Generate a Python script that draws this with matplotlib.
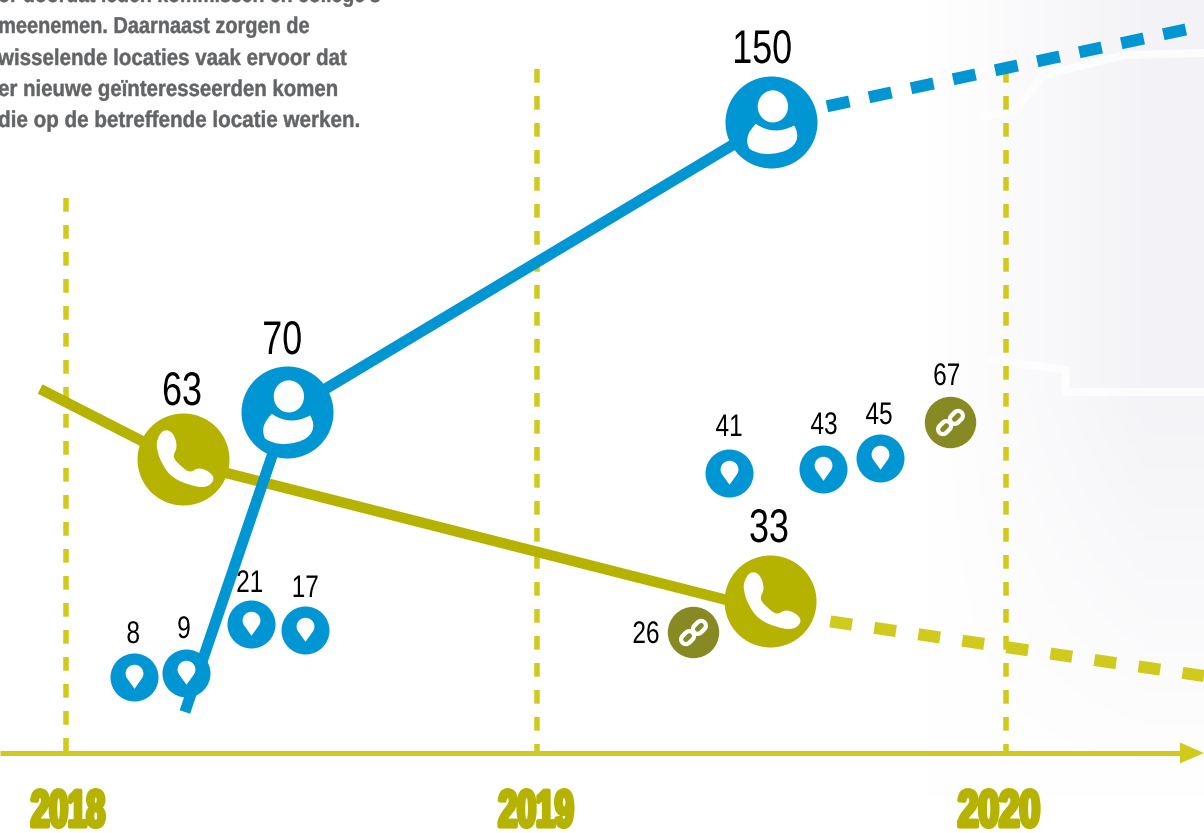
import matplotlib
matplotlib.use("Agg")
import matplotlib.pyplot as plt
import matplotlib.patheffects as pe
from matplotlib.path import Path
from matplotlib.transforms import Affine2D
import numpy as np

BLUE = "#0095d3"
OLIVE = "#b5b300"
DASH = "#cfca1b"
LINK = "#878a22"
GREY = "#636466"
FONT = "Liberation Sans"

# x is in years, y is the height above the time axis
years = [2018, 2019, 2020]
guide_x = [2018, 2019.002, 2020]
year_label_x = [2018.004, 2019.0, 2019.985]
year_label_squeeze = [0.64, 0.65, 0.71]
guide_top = [555, 684, 684]

intro_lines = ["or doordat leden kommissen en college's",
               "meenemen. Daarnaast zorgen de",
               "wisselende locaties vaak ervoor dat",
               "er nieuwe geïnteresseerden komen",
               "die op de betreffende locatie werken."]
intro_y = [751, 720, 688, 657, 626]
intro_squeeze = [0.85, 0.87, 0.895, 0.89, 0.9]

leden_x = [2018.253, 2018.47, 2019.5]
leden_y = [41, 341, 631]
leden_trend_x = [2019.619, 2020.421]
leden_trend_y = [646.7, 727.4]

bellers_x = [2017.945, 2018.249, 2019.498]
bellers_y = [364, 291, 142]
bellers_trend_x = [2019.626, 2020.421]
bellers_trend_y = [131.6, 77]

person_x = [2018.47, 2019.5]
person_y = [341, 631]
phone_x = [2018.249, 2019.498]
phone_y = [294, 152]
pin_x = [2018.145, 2018.255, 2018.393, 2018.509, 2019.41, 2019.611, 2019.731]
pin_y = [76, 80, 129, 123, 280, 284, 295]
link_x = [2019.333, 2019.88]
link_y = [121, 331]

big_labels = ["150", "70", "63", "33"]
big_label_x = [2019.481, 2018.46, 2018.247, 2019.496]
big_label_y = [690, 399, 348, 211]
small_labels = ["8", "9", "21", "17", "41", "43", "45", "67", "26"]
small_label_x = [2018.143, 2018.251, 2018.391, 2018.509, 2019.411, 2019.613, 2019.73, 2019.874, 2019.234]
small_label_y = [110, 115, 161, 156, 317, 319, 329, 368, 110]

# map outline in the background
outline_x = [[2019.951, 2020.021, 2020.078, 2020.254, 2020.43],
             [2019.972, 2020.127, 2020.127, 2020.43]]
outline_y = [[636, 643, 678, 698, 700],
             [393, 383, 361, 361]]


class Squeeze(pe.AbstractPathEffect):
    # there is no condensed font here, so narrow the glyphs when they are drawn
    def __init__(self, sx, anchor="center", stroke=0, color=None):
        super().__init__()
        self.sx = sx
        self.anchor = anchor
        self.stroke = stroke
        self.color = color

    def draw_path(self, renderer, gc, tpath, affine, rgbFace=None):
        box = tpath.get_extents(affine)
        x0 = box.x0 if self.anchor == "left" else (box.x0 + box.x1) / 2
        squeezed = affine + Affine2D().translate(-x0, 0).scale(self.sx, 1).translate(x0, 0)
        gc0 = renderer.new_gc()
        gc0.copy_properties(gc)
        if self.stroke:
            gc0.set_linewidth(self.stroke)
            gc0.set_foreground(self.color)
        renderer.draw_path(gc0, tpath, squeezed, rgbFace)
        gc0.restore()


def px(width):
    return width * 0.72


def blob(points):
    # closed shape, smoothed with quadratic curves through the edge midpoints
    points = np.array(points)
    mids = (points + np.roll(points, -1, axis=0)) / 2
    verts = [mids[-1]]
    codes = [Path.MOVETO]
    for p, m in zip(points, mids):
        verts += [p, m]
        codes += [Path.CURVE3, Path.CURVE3]
    verts.append(mids[-1])
    codes.append(Path.CLOSEPOLY)
    return Path(verts, codes)


def ellipse(cx, cy, rx, ry):
    t = np.linspace(0, 2 * np.pi, 40)
    return Path(np.c_[cx + rx * np.cos(t), cy + ry * np.sin(t)], closed=True)


def stadium(cx, cy, half_len, half_wid, reverse=False):
    t = np.linspace(-np.pi / 2, np.pi / 2, 12)
    right = np.c_[half_len - half_wid + half_wid * np.cos(t), half_wid * np.sin(t)]
    left = np.c_[-(half_len - half_wid) - half_wid * np.cos(t[::-1]), half_wid * np.sin(t[::-1])]
    pts = np.vstack([right, left])
    c, s = np.cos(np.pi / 4), np.sin(np.pi / 4)
    pts = np.c_[pts[:, 0] * c - pts[:, 1] * s + cx, pts[:, 0] * s + pts[:, 1] * c + cy]
    if reverse:
        pts = pts[::-1]
    return Path(np.vstack([pts, pts[0]]), closed=True)


body = Path([(-.34, -.03), (.05, -.30), (.49, -.065), (.64, -.30), (.55, -.56), (.2, -.645),
             (-.2, -.76), (-.485, -.57), (-.62, -.30), (-.34, -.03), (-.34, -.03)],
            [Path.MOVETO, Path.CURVE3, Path.CURVE3, Path.CURVE4, Path.CURVE4, Path.CURVE4,
             Path.CURVE3, Path.CURVE3, Path.CURVE3, Path.CURVE3, Path.CLOSEPOLY])
person_icon = Path.make_compound_path(ellipse(.03, .35, .33, .35), body)

phone_icon = blob(np.array([(-.56, .44), (-.42, .64), (-.22, .58), (-.12, .26), (-.24, .06),
                            (-.07, -.13), (.14, -.29), (.31, -.16), (.58, -.27), (.66, -.44),
                            (.48, -.60), (.14, -.55), (-.25, -.38), (-.46, -.09), (-.57, .22)]) * 1.03)

pin_icon = Path([(0, -.47), (-.3, -.05), (-.48, .2), (-.3, .53), (0, .53), (.3, .53), (.48, .2),
                 (.3, -.05), (0, -.47), (0, -.47)],
                [Path.MOVETO, Path.LINETO, Path.CURVE4, Path.CURVE4, Path.CURVE4, Path.CURVE4,
                 Path.CURVE4, Path.CURVE4, Path.LINETO, Path.CLOSEPOLY])

link_icon = Path.make_compound_path(
    stadium(-.23, -.2, .36, .27), stadium(-.23, -.2, .2, .1, reverse=True),
    stadium(.23, .2, .36, .27), stadium(.23, .2, .2, .1, reverse=True))


def draw_icons(ax, xs, ys, icon, radius, color):
    # a Path marker gets scaled on its largest coordinate, so undo that here
    size = 2 * np.abs(icon.vertices).max() * radius
    ax.plot(xs, ys, "o", ms=px(2 * radius), mfc=color, mec="none", zorder=5)
    ax.plot(xs, ys, ls="none", marker=icon, ms=px(size), mfc="white", mec="none", zorder=6)


fig = plt.figure(figsize=(12.04, 8.33), dpi=100)
ax = fig.add_axes([0, 0, 1, 1])
xmin, xmax = 2018 - 66 / 470, 2018 + 1138 / 470
ax.set_xlim(xmin, xmax)
ax.set_ylim(-80, 753)
ax.axis("off")

# soft grey wash at the right
gx, gy = np.meshgrid(np.linspace(0, 1204, 301), np.linspace(0, 833, 209))
wash = np.clip((gx - 930) / 220, 0, 1) * np.clip((800 - gy) / 420, 0, 1)
bg = np.ones(gx.shape + (3,))
bg[..., 0] -= wash * 0.045
bg[..., 1] -= wash * 0.045
bg[..., 2] -= wash * 0.03
ax.imshow(bg, extent=[xmin, xmax, -80, 753], aspect="auto", zorder=0)
for ox, oy in zip(outline_x, outline_y):
    ax.plot(ox, oy, color="white", lw=px(8), alpha=0.8, solid_joinstyle="round", zorder=0.5)

for y, line, sx in zip(intro_y, intro_lines, intro_squeeze):
    ax.text(xmin - 2 / 470, y, line, family=FONT, weight="bold", size=16.5, color=GREY,
            ha="left", va="baseline", zorder=8,
            path_effects=[Squeeze(sx, anchor="left", stroke=0.3, color=GREY)])

# time axis
for x, top in zip(guide_x, guide_top):
    ax.plot([x, x], [top, 0], color=DASH, lw=px(5.5), ls=(0, (13.7 / 5.5, 13.3 / 5.5)),
            dash_capstyle="butt", zorder=1)
ax.plot([xmin, 2020.37], [0, 0], color=DASH, lw=px(5), solid_capstyle="butt", zorder=2)
ax.fill([2020.37, 2020.37, 2020.421], [10.5, -10.5, 0], color=DASH, lw=0, zorder=2)
for x, yr, sx in zip(year_label_x, years, year_label_squeeze):
    ax.text(x, -73.5, str(yr), family=FONT, weight="bold", size=37.5, color=OLIVE, ha="center",
            va="baseline", zorder=7, path_effects=[Squeeze(sx, stroke=3, color=OLIVE)])

# trends
ax.plot(bellers_x, bellers_y, color=OLIVE, lw=px(10.5), solid_capstyle="butt",
        solid_joinstyle="round", zorder=3)
ax.plot(leden_x, leden_y, color=BLUE, lw=px(11), solid_capstyle="butt",
        solid_joinstyle="round", zorder=4)
ax.plot(bellers_trend_x, bellers_trend_y, color=DASH, lw=px(12), ls=(0, (22 / 12, 22.5 / 12)),
        dash_capstyle="butt", zorder=3)
ax.plot(leden_trend_x, leden_trend_y, color=BLUE, lw=px(12), ls=(0, (23 / 12, 20 / 12)),
        dash_capstyle="butt", zorder=4)

draw_icons(ax, person_x, person_y, person_icon, 46, BLUE)
draw_icons(ax, phone_x, phone_y, phone_icon, 46, OLIVE)
draw_icons(ax, pin_x, pin_y, pin_icon, 24, BLUE)
draw_icons(ax, link_x, link_y, link_icon, 25.7, LINK)

for x, y, s in zip(big_label_x, big_label_y, big_labels):
    ax.text(x, y, s, family=FONT, size=34, color="black", ha="center", va="baseline", zorder=7,
            path_effects=[Squeeze(0.76)])
for x, y, s in zip(small_label_x, small_label_y, small_labels):
    ax.text(x, y, s, family=FONT, size=22.5, color="black", ha="center", va="baseline", zorder=7,
            path_effects=[Squeeze(0.78)])

fig.savefig("out.png", dpi=100)
